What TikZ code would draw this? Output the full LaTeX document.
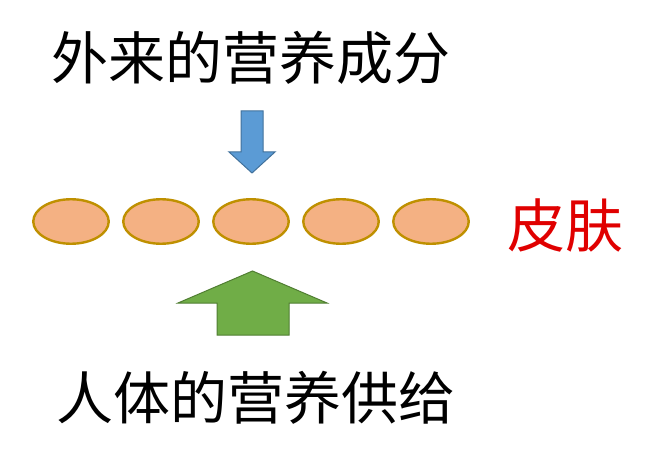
\documentclass[tikz,border=0pt]{standalone}
\usepackage{fontspec}
\usepackage{xcolor}
\usepackage{tikz}
\usetikzlibrary{positioning,calc,shapes.geometric}
\newfontfamily\cjk{Noto Sans CJK SC}

\definecolor{cellfill}{HTML}{F4B183}
\definecolor{celldraw}{HTML}{BF9000}
\definecolor{inblue}{HTML}{5B9BD5}
\definecolor{inbluedraw}{HTML}{41719C}
\definecolor{ingreen}{HTML}{70AD47}
\definecolor{ingreendraw}{HTML}{507E32}
\definecolor{skinred}{HTML}{E00000}

\tikzset{
	cell/.style={ellipse, draw=celldraw, fill=cellfill, line width=2.4pt,
		minimum width=75.5pt, minimum height=44.5pt, inner sep=0pt},
	bigtext/.style={font=\cjk\fontsize{57}{60}\selectfont, inner sep=0pt}
}

\begin{document}
\begin{tikzpicture}[x=1pt,y=-1pt]
					\useasboundingbox (0,0) rectangle (660,470);
					\def\rowy{221.5}
					\def\gap{90}
					
					% skin cells
					\foreach \i in {1,...,5}{
						\node[cell] (c\i) at ({71+(\i-1)*\gap},\rowy) {};
					}
					\node[bigtext, text=skinred, font=\cjk\fontsize{58}{60}\selectfont] (skin) at (565,225) {皮肤};
					
					% labels
					\node[bigtext] (outside) at (251,58) {外来的营养成分};
					\node[bigtext] (inside) at (256,398) {人体的营养供给};
					
					% blue arrow, from outside
					\draw[line width=1pt, draw=inbluedraw, fill=inblue, line join=miter]
						(241,111) -- (263,111) -- (263,152) -- (275,152) -- (252,173)
						-- (229,152) -- (241,152) -- cycle;
					
					% green arrow, from the body
					\draw[line width=1pt, draw=ingreendraw, fill=ingreen, line join=miter]
						(217,335) -- (217,303) -- (178,303) -- (252.5,271) -- (327,303)
						-- (289,303) -- (289,335) -- cycle;
				\end{tikzpicture}
\end{document}
